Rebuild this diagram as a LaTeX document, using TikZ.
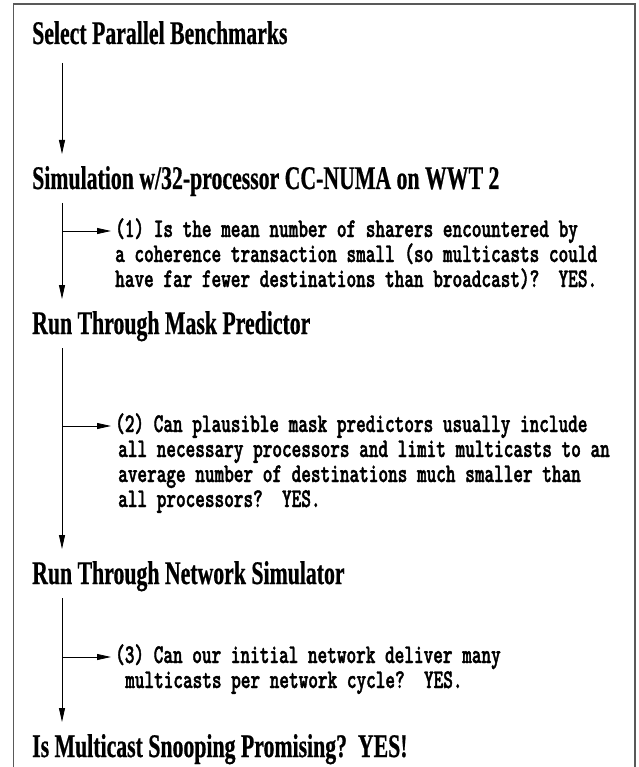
\documentclass[tikz,border=0pt]{standalone}
\usepackage{fontspec}
\usetikzlibrary{arrows.meta}
\newfontfamily\headfont{Liberation Serif Bold}[FakeStretch=0.66,FakeBold=0.6]
\newfontfamily\codefont{lmmonolt10-bold.otf}[FakeStretch=0.68,FakeBold=1.5]
\tikzset{
  head/.style={anchor=base west, inner sep=0pt, font=\headfont\fontsize{33}{33}\selectfont},
  code/.style={anchor=base west, inner xsep=0pt, inner ysep=0pt, text height=12pt, text depth=4pt, font=\codefont\fontsize{27}{25}\selectfont},
  arr/.style={draw=black, line width=0.8pt, -{Triangle[length=14pt,width=6pt]}},
  frame/.style={draw=black!65, line width=1.3pt}
}
\begin{document}
\begin{tikzpicture}[x=1pt,y=-1pt]
\useasboundingbox (0,0) rectangle (638,767);
\fill[white] (0,0) rectangle (638,767);
\draw[frame] (13.5,767) -- (13.5,4) -- (635,4) -- (635,767);
\coordinate (c) at (62,0);
% headings
\node[head] (h1) at (32,44) {Select Parallel Benchmarks};
\node[head] (h2) at (32,189) {Simulation w/32-processor CC-NUMA on WWT 2};
\node[head] (h3) at (32,334) {Run Through Mask Predictor};
\node[head] (h4) at (32,584) {Run Through Network Simulator};
\node[head] (h5) at (32,757) {Is Multicast Snooping Promising?\ \ YES!};
% question texts
\node[code] (t1a) at (115,237) {(1) Is the mean number of sharers encountered by};
\node[code] (t1b) at (115,262) {a coherence transaction small (so multicasts could};
\node[code] (t1c) at (115,287) {have far fewer destinations than broadcast)?\ \ YES.};
\node[code] (t2a) at (115,432) {(2) Can plausible mask predictors usually include};
\node[code] (t2b) at (118,457) {all necessary processors and limit multicasts to an};
\node[code] (t2c) at (118,482) {average number of destinations much smaller than};
\node[code] (t2d) at (118,507) {all processors?\ \ YES.};
\node[code] (t3a) at (115,663) {(3) Can our initial network deliver many};
\node[code] (t3b) at (125,688) {multicasts per network cycle?\ \ YES.};
% connectors
\draw[arr] ([yshift=-19pt]h1.base -| c) -- ([yshift=35pt]h2.base -| c);
\draw[arr] ([yshift=-14pt]h2.base -| c) -- ([yshift=35pt]h3.base -| c);
\draw[arr] ([yshift=6pt]t1a.base west -| c) -- ([xshift=-4pt,yshift=6pt]t1a.base west);
\draw[arr] ([yshift=-14pt]h3.base -| c) -- ([yshift=35pt]h4.base -| c);
\draw[arr] ([yshift=6pt]t2a.base west -| c) -- ([xshift=-4pt,yshift=6pt]t2a.base west);
\draw[arr] ([yshift=-14pt]h4.base -| c) -- ([yshift=35pt]h5.base -| c);
\draw[arr] ([yshift=6pt]t3a.base west -| c) -- ([xshift=-4pt,yshift=6pt]t3a.base west);
\end{tikzpicture}
\end{document}
